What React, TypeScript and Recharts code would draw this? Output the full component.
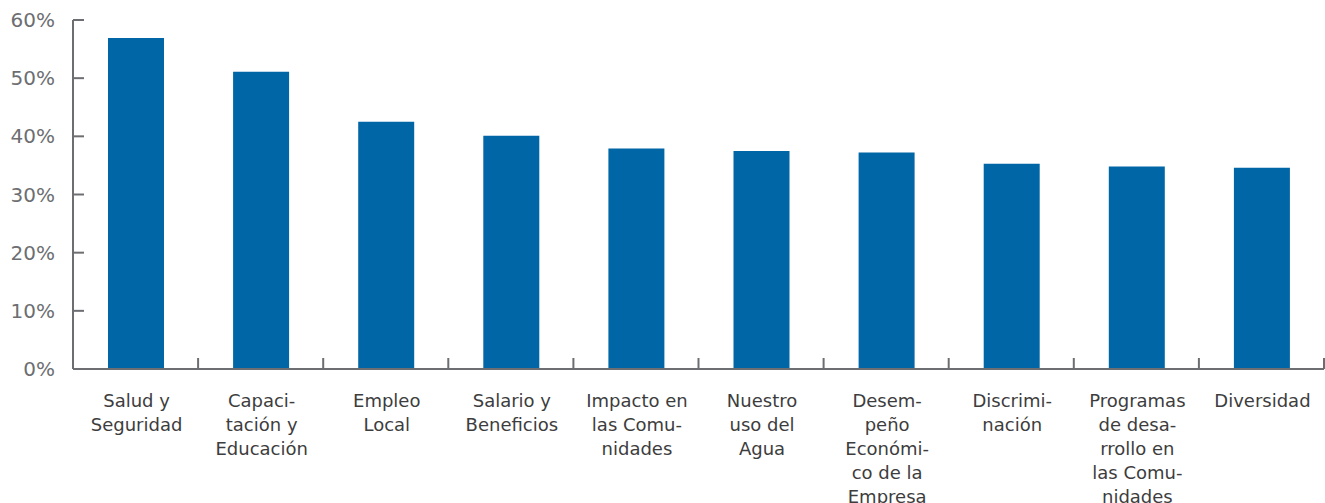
import React from "react";
import { BarChart, Bar, XAxis, YAxis } from "recharts";

// category labels, with the line breaks used in the source
const categories = [
    "Salud y\nSeguridad",
    "Capaci-\ntación y\nEducación",
    "Empleo\nLocal",
    "Salario y\nBeneficios",
    "Impacto en\nlas Comu-\nnidades",
    "Nuestro\nuso del\nAgua",
    "Desem-\npeño\nEconómi-\nco de la\nEmpresa",
    "Discrimi-\nnación",
    "Programas\nde desa-\nrrollo en\nlas Comu-\nnidades",
    "Diversidad",
];

// percentage of responses
const values = [56.9, 51.1, 42.5, 40.1, 37.9, 37.5, 37.2, 35.3, 34.8, 34.6];

const yTicks = [0, 10, 20, 30, 40, 50, 60];

const data = categories.map((name, i) => ({ name, value: values[i] }));

const WIDTH = 1325;
const HEIGHT = 503;
const AXIS_X = 73;
const RIGHT = 1;
const BAND = (WIDTH - AXIS_X - RIGHT) / categories.length;
const AXIS_COLOR = "#6d6e71";
const FONT = "'DejaVu Sans', sans-serif";

function YTick(props: any) {
    const { x, y, payload } = props;
    return (
        <g>
            <line x1={x} x2={x + 11} y1={y} y2={y} stroke={AXIS_COLOR} strokeWidth={2} />
            <text
                x={x - 18}
                y={y}
                textAnchor="end"
                dominantBaseline="central"
                fontSize={20}
                fontFamily={FONT}
                fill="#6d6e71"
            >
                {`${payload.value}%`}
            </text>
        </g>
    );
}

function XTick(props: any) {
    const { x, y, payload } = props;
    const lines = String(payload.value).split("\n");
    const edge = x + BAND / 2;
    return (
        <g>
            <line x1={edge} x2={edge} y1={y} y2={y - 11} stroke={AXIS_COLOR} strokeWidth={2} />
            <text
                textAnchor="middle"
                fontSize={18}
                fontFamily={FONT}
                fill="#3d3d3d"
            >
                {lines.map((line, i) => (
                    <tspan key={i} x={x + 1} y={y + 31 + i * 24} dominantBaseline="central">
                        {line}
                    </tspan>
                ))}
            </text>
        </g>
    );
}

export default function App() {
    return (
        <div style={{ position: "absolute", left: 0, top: 0, background: "#fff" }}>
            <BarChart
                width={WIDTH}
                height={HEIGHT}
                data={data}
                margin={{ top: 20, right: RIGHT, left: 0, bottom: 0 }}
                barCategoryGap={0}
            >
                <XAxis
                    dataKey="name"
                    interval={0}
                    height={HEIGHT - 369}
                    tickSize={0}
                    tickMargin={0}
                    tickLine={false}
                    tick={<XTick />}
                    axisLine={{ stroke: AXIS_COLOR, strokeWidth: 2 }}
                />
                <YAxis
                    width={AXIS_X}
                    domain={[0, 60]}
                    ticks={yTicks}
                    interval={0}
                    tickSize={0}
                    tickMargin={0}
                    tickLine={false}
                    tick={<YTick />}
                    axisLine={{ stroke: AXIS_COLOR, strokeWidth: 2 }}
                />
                <Bar dataKey="value" fill="#0066a6" barSize={56} isAnimationActive={false} />
            </BarChart>
        </div>
    );
}
